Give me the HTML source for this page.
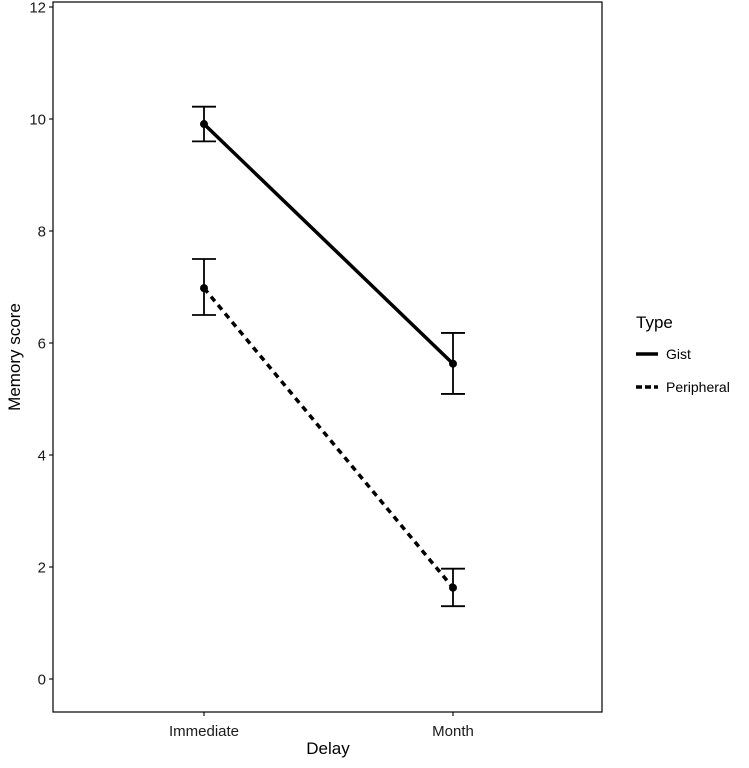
<!DOCTYPE html>
<html><head><meta charset="utf-8"><style>
body{margin:0;background:#fff;}
svg text{font-family:"Liberation Sans",Arial,sans-serif;}
</style></head><body>
<svg id="chart" width="749" height="763" xmlns="http://www.w3.org/2000/svg">
<rect x="0" y="0" width="749" height="763" fill="#fff"/>
<g id="plot"></g>
</svg>
<script>
const categories = ["Immediate", "Month"];
const seriesNames = ["Gist", "Peripheral"];
const gistMean = [9.91, 5.63];
const gistLow = [9.6, 5.09];
const gistHigh = [10.22, 6.18];
const periphMean = [6.98, 1.63];
const periphLow = [6.5, 1.3];
const periphHigh = [7.5, 1.97];
const yTicks = [0, 2, 4, 6, 8, 10, 12];

const NS = "http://www.w3.org/2000/svg";
const g = document.getElementById("plot");
const L = 53, R = 602, T = 2, B = 712;
const y = v => 679 - v * 56;
const x = i => 204 + i * 249;
function el(tag, attrs, text) {
  const e = document.createElementNS(NS, tag);
  for (const k in attrs) e.setAttribute(k, attrs[k]);
  if (text !== undefined) e.textContent = text;
  g.appendChild(e);
  return e;
}
let e;
e = el("rect", {x: L, y: T, width: R - L, height: B - T, fill: "none", stroke: "#000", "stroke-width": 1.2});


yTicks.forEach(v => {
  e = el("line", {x1: L - 4, x2: L, y1: y(v), y2: y(v), stroke: "#000", "stroke-width": 1.1});
  
  
  e = el("text", {x: L - 7, y: y(v) + 5.5, "text-anchor": "end", "font-size": 15, fill: "#1a1a1a"}, v);
  
  
});
categories.forEach((c, i) => {
  e = el("line", {x1: x(i), x2: x(i), y1: B, y2: B + 4, stroke: "#000", "stroke-width": 1.1});
  
  
  e = el("text", {x: x(i), y: 736, "text-anchor": "middle", "font-size": 15, fill: "#1a1a1a"}, c);
  
  
});
e = el("text", {x: 328, y: 754, "text-anchor": "middle", "font-size": 17, fill: "#000"}, "Delay");


e = el("text", {x: 0, y: 0, "text-anchor": "middle", "font-size": 17, fill: "#000", transform: "translate(20,357) rotate(-90)"}, "Memory score");



const series = [
  {name: "gist", mean: gistMean, lo: gistLow, hi: gistHigh, dash: null},
  {name: "peripheral", mean: periphMean, lo: periphLow, hi: periphHigh, dash: "6,5"}
];
series.forEach(s => {
  e = el("line", {x1: x(0), y1: y(s.mean[0]), x2: x(1), y2: y(s.mean[1]), stroke: "#000", "stroke-width": 3.5});
  if (s.dash) e.setAttribute("stroke-dasharray", s.dash);
  
  
  s.mean.forEach((m, i) => {
    const cx = x(i);
    e = el("path", {d: `M${cx-12},${y(s.hi[i])}H${cx+12}M${cx},${y(s.hi[i])}V${y(s.lo[i])}M${cx-12},${y(s.lo[i])}H${cx+12}`, stroke: "#000", "stroke-width": 1.8, fill: "none"});
    
    
    e = el("circle", {cx: cx, cy: y(m), r: 4, fill: "#000"});
    
    
  });
});
e = el("text", {x: 636, y: 328, "font-size": 17, fill: "#000"}, "Type");


seriesNames.forEach((n, i) => {
  const ly = 354 + i * 33;
  e = el("line", {x1: 636, x2: 658, y1: ly, y2: ly, stroke: "#000", "stroke-width": 3.5});
  if (i === 1) e.setAttribute("stroke-dasharray", "6,3");
  
  
  e = el("text", {x: 666, y: ly + 5, "font-size": 14, fill: "#000"}, n);
  
  
});
</script>
</body></html>
